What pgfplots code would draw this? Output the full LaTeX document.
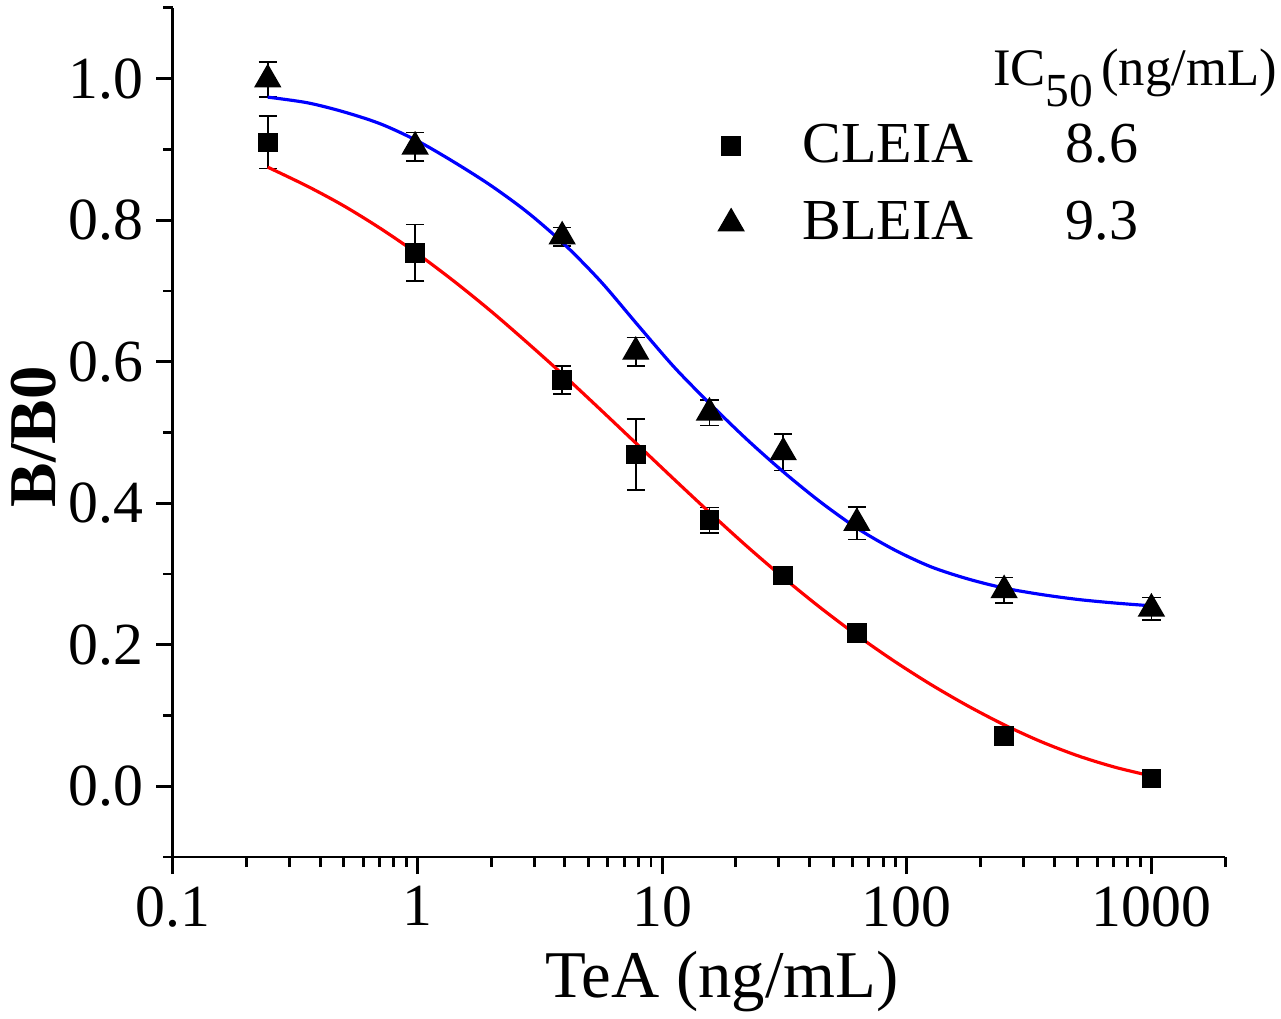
\documentclass[border=0pt]{standalone}
\usepackage{pgfplots}
\pgfplotsset{compat=1.18}
\usepackage{fontspec}
\setmainfont{Liberation Serif}
\begin{document}
\begin{tikzpicture}
\path[use as bounding box] (-1.73,-1.62) rectangle (11.08,8.57);
\begin{axis}[
  scale only axis, width=10.52cm, height=8.49cm,
  xmode=log, xmin=0.1, xmax=2000, ymin=-0.1, ymax=1.1,
  axis lines=left, axis line style={-, line width=0.85pt},
  every tick/.style={black, line width=0.85pt},
  tick align=outside,
  major tick length=0.17cm, minor tick length=0.10cm,
  xtick={0.1,1,10,100,1000}, xticklabels={0.1,1,10,100,1000},
  minor xtick={0.2,0.3,0.4,0.5,0.6,0.7,0.8,0.9,2,3,4,5,6,7,8,9,20,30,40,50,60,70,80,90,200,300,400,500,600,700,800,900,2000},
  ytick={0,0.2,0.4,0.6,0.8,1.0},
  minor ytick={-0.1,0.1,0.3,0.5,0.7,0.9,1.1},
  yticklabel style={/pgf/number format/.cd, fixed, fixed zerofill, precision=1},
  /pgf/number format/assume math mode=true,
  tick label style={font=\fontsize{17}{20}\selectfont},
  xlabel={TeA (ng/mL)}, ylabel={\textbf{B/B0}},
  label style={font=\fontsize{19}{22}\selectfont},
  xlabel style={at={(axis description cs:0.522,-0.165)}, anchor=base},
  ylabel style={at={(axis description cs:-0.132,0.495)}, anchor=center},
  legend style={at={(axis description cs:0.518,0.792)}, anchor=west, draw=none, fill=none,
    inner sep=0pt, font=\fontsize{16.5}{20}\selectfont, row sep=0pt, nodes={inner ysep=4.8pt}},
  legend cell align=left,
  clip=false,
]
\addplot[only marks, mark=square*, mark size=2.6pt, black,
  error bars/.cd, y dir=both, y explicit,
  error bar style={line width=0.45pt, black},
  error mark options={rotate=90, mark size=2.6pt, line width=0.45pt, black}]
  table[x=x, y=y, y error=e] {
x y e
0.244 0.910 0.037
0.977 0.754 0.040
3.9 0.574 0.020
7.8 0.469 0.050
15.6 0.376 0.018
31.25 0.298 0.012
62.5 0.217 0.005
250 0.071 0.005
1000 0.011 0.005
};
\addlegendentry{\hspace{0.52cm}\makebox[2.63cm][l]{CLEIA}8.6}
\addplot[only marks, mark=triangle*, mark size=4.1pt, black,
  error bars/.cd, y dir=both, y explicit,
  error bar style={line width=0.45pt, black},
  error mark options={rotate=90, mark size=2.6pt, line width=0.45pt, black}]
  table[x=x, y=y, y error=e] {
x y e
0.244 0.999 0.025
0.977 0.904 0.020
3.9 0.777 0.013
7.8 0.614 0.020
15.6 0.528 0.018
31.25 0.472 0.026
62.5 0.372 0.023
250 0.277 0.018
1000 0.251 0.016
};
\addlegendentry{\hspace{0.52cm}\makebox[2.63cm][l]{BLEIA}9.3}
\addplot[red, line width=0.9pt, smooth, forget plot] coordinates {
(0.244,0.875) (0.3548,0.848) (0.5012,0.820) (0.7079,0.788) (1,0.7525) (1.4125,0.7135)
(1.9953,0.6715) (2.8184,0.6265) (3.9811,0.580) (5.6234,0.5316) (7.9433,0.4825)
(11.220,0.4334) (15.849,0.385) (22.387,0.338) (31.623,0.2935) (44.668,0.2515)
(63.096,0.2125) (89.125,0.1765) (125.89,0.1435) (177.83,0.1135) (251.19,0.0865)
(354.81,0.0629) (501.19,0.043) (707.95,0.027) (1000,0.0145)
};
\addplot[blue, line width=0.9pt, smooth, forget plot] coordinates {
(0.244,0.974) (0.3548,0.966) (0.5012,0.953) (0.7079,0.936) (1,0.912) (1.4125,0.882)
(1.9953,0.849) (2.8184,0.811) (3.9811,0.766) (5.6234,0.713) (7.9433,0.652)
(11.220,0.592) (15.849,0.539) (22.387,0.489) (31.623,0.443) (44.668,0.401)
(63.096,0.364) (89.125,0.334) (125.89,0.310) (177.83,0.293) (251.19,0.280)
(354.81,0.271) (501.19,0.264) (707.95,0.259) (1000,0.255)
};
\node[anchor=base west, font=\fontsize{15}{17}\selectfont, inner sep=0pt] at (axis description cs:0.779,0.909) {IC\raisebox{-0.21cm}{\fontsize{13.5}{13.5}\selectfont 50}\hspace{0.08cm}(ng/mL)};
\end{axis}
\end{tikzpicture}
\end{document}
